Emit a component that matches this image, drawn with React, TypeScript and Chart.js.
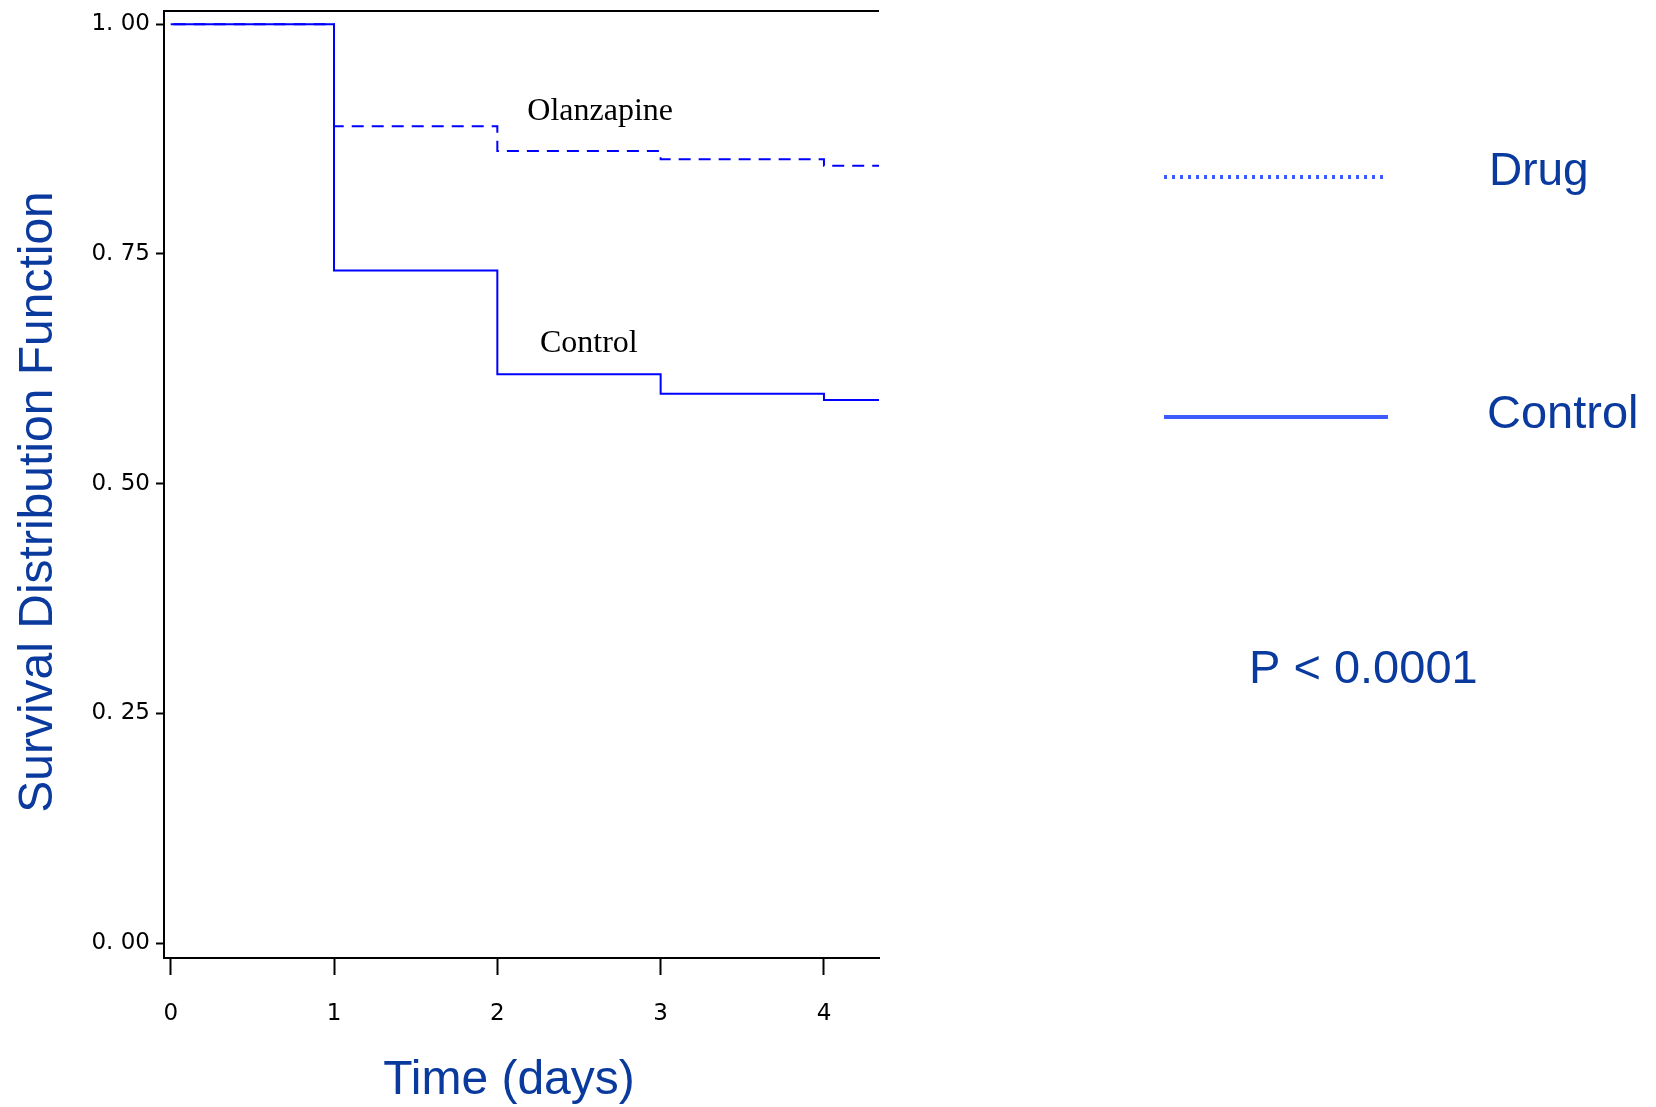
import React, { useEffect, useRef } from "react";
import { Chart, registerables } from "chart.js";

Chart.register(...registerables);

// ---- data ----
const times = [0, 1, 2, 3, 4, 4.5];
const olanzapine = [1.0, 0.889, 0.862, 0.853, 0.846, 0.846];
const control = [1.0, 0.732, 0.619, 0.598, 0.591, 0.591];
const xTicks = [0, 1, 2, 3, 4];
const xTickLabels = ["0", "1", "2", "3", "4"];
const yTicks = [0, 0.25, 0.5, 0.75, 1.0];
const yTickLabels = ["0. 00", "0. 25", "0. 50", "0. 75", "1. 00"];
const seriesNames = ["Control", "Olanzapine"];
const legendLabels = ["Drug", "Control"];
const pText = "P < 0.0001";
const xTitle = "Time (days)";
const yTitle = "Survival Distribution Function";

const TITLE_BLUE = "#0a3a9e";
const LEGEND_LINE = "#3b5bff";

const overlayPlugin = {
  id: "overlay",
  afterDraw(chart: any) {
    const ctx = chart.ctx as CanvasRenderingContext2D;
    const area = chart.chartArea;
    const xs = chart.scales.x;
    const ys = chart.scales.y;
    ctx.save();
    // top frame line
    ctx.strokeStyle = "#000";
    ctx.lineWidth = 2;
    ctx.beginPath();
    ctx.moveTo(area.left - 1, area.top);
    ctx.lineTo(area.right, area.top);
    ctx.stroke();

    // curve annotations
    ctx.fillStyle = "#000";
    ctx.font = "32px 'Liberation Serif', 'Times New Roman', serif";
    ctx.textAlign = "center";
    ctx.textBaseline = "alphabetic";
    ctx.fillText(seriesNames[1], xs.getPixelForValue(2.63), ys.getPixelForValue(0.896));
    ctx.fillText(seriesNames[0], xs.getPixelForValue(2.56), ys.getPixelForValue(0.643));

    // axis titles
    ctx.fillStyle = TITLE_BLUE;
    ctx.font = "48px 'Liberation Sans', Arial, sans-serif";
    ctx.textAlign = "center";
    ctx.fillText(xTitle, 509, 1094);
    ctx.save();
    ctx.translate(52, 502);
    ctx.rotate(-Math.PI / 2);
    ctx.fillText(yTitle, 0, 0);
    ctx.restore();

    // legend
    ctx.strokeStyle = LEGEND_LINE;
    ctx.lineWidth = 4;
    ctx.setLineDash([3, 5]);
    ctx.beginPath();
    ctx.moveTo(1164, 177);
    ctx.lineTo(1388, 177);
    ctx.stroke();
    ctx.setLineDash([]);
    ctx.beginPath();
    ctx.moveTo(1164, 417);
    ctx.lineTo(1388, 417);
    ctx.stroke();

    ctx.fillStyle = TITLE_BLUE;
    ctx.font = "46px 'Liberation Sans', Arial, sans-serif";
    ctx.textAlign = "left";
    ctx.fillText(legendLabels[0], 1489, 185);
    ctx.font = "47px 'Liberation Sans', Arial, sans-serif";
    ctx.fillText(legendLabels[1], 1487, 428);
    ctx.fillText(pText, 1249, 683);
    ctx.restore();
  },
};

export default function App() {
  const ref = useRef<HTMLCanvasElement | null>(null);
  useEffect(() => {
    if (!ref.current) return;
    const tickFont = { family: "'DejaVu Sans', sans-serif", size: 23 };
    const chart = new Chart(ref.current, {
      type: "line",
      data: {
        datasets: [
          {
            label: seriesNames[0],
            data: times.map((t, i) => ({ x: t, y: control[i] })),
            stepped: "before",
            borderColor: "#0000ff",
            borderWidth: 2,
            pointRadius: 0,
            fill: false,
          },
          {
            label: seriesNames[1],
            data: times.map((t, i) => ({ x: t, y: olanzapine[i] })),
            stepped: "before",
            borderColor: "#0000ff",
            borderWidth: 2,
            borderDash: [12, 8],
            borderDashOffset: 17,
            pointRadius: 0,
            fill: false,
          },
        ],
      },
      options: {
        animation: false,
        responsive: false,
        devicePixelRatio: 1,
        layout: { padding: { left: 0, top: 11, right: 777, bottom: 0 } },
        plugins: { legend: { display: false }, tooltip: { enabled: false } },
        scales: {
          x: {
            type: "linear",
            min: -0.041,
            max: 4.337,
            afterBuildTicks: (s: any) => {
              s.ticks = xTicks.map((v) => ({ value: v }));
            },
            afterFit: (s: any) => {
              s.height = 149;
              s.paddingLeft = 0;
              s.paddingRight = 0;
            },
            ticks: {
              color: "#000",
              font: tickFont,
              padding: 25,
              maxRotation: 0,
              autoSkip: false,
              callback: (_v: any, i: number) => xTickLabels[i],
            },
            grid: {
              drawOnChartArea: false,
              drawTicks: true,
              tickLength: 17,
              tickColor: "#000",
              tickWidth: 2,
            },
            border: { display: true, color: "#000", width: 2 },
          },
          y: {
            type: "linear",
            min: -0.0163,
            max: 1.0145,
            afterBuildTicks: (s: any) => {
              s.ticks = yTicks.map((v) => ({ value: v }));
            },
            afterFit: (s: any) => {
              s.width = 164;
              s.paddingTop = 0;
              s.paddingBottom = 0;
            },
            ticks: {
              color: "#000",
              font: tickFont,
              padding: 6,
              autoSkip: false,
              callback: (_v: any, i: number) => yTickLabels[i],
            },
            grid: {
              drawOnChartArea: false,
              drawTicks: true,
              tickLength: 8,
              tickColor: "#000",
              tickWidth: 2,
            },
            border: { display: true, color: "#000", width: 2 },
          },
        },
      },
      plugins: [overlayPlugin],
    } as any);
    return () => chart.destroy();
  }, []);
  return (
    <div style={{ position: "fixed", left: 0, top: 0, width: 1656, height: 1107, background: "#fff" }}>
      <canvas ref={ref} width={1656} height={1107} style={{ width: 1656, height: 1107, display: "block" }} />
    </div>
  );
}
